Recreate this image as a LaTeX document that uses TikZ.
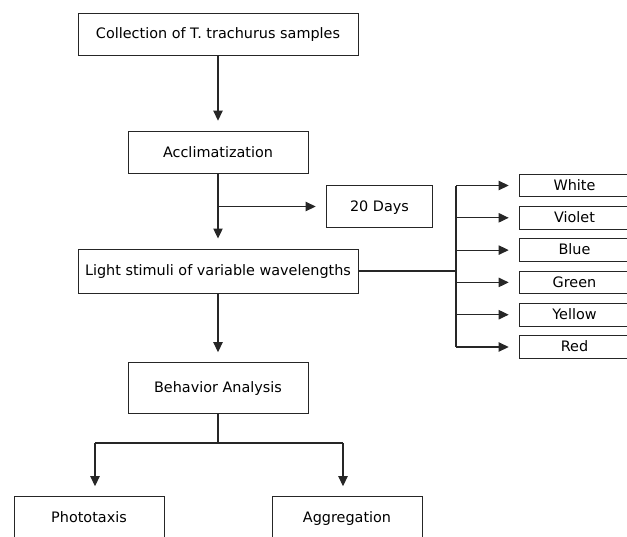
\documentclass[tikz,border=0pt]{standalone}
\usepackage{fontspec}
\setmainfont{DejaVu Sans}
\usetikzlibrary{arrows.meta}
\tikzset{
  stagebox/.style={rectangle, draw=black!85, line width=0.7pt, text centered, inner sep=2pt, text height=0.73em, text depth=0.04em, font=\fontsize{10.8}{12}\selectfont},
  colbox/.style={stagebox, minimum width=83pt, minimum height=17pt},
  link/.style={draw=black!85, line width=0.8pt},
  arr/.style={link, -{Triangle[length=7.5pt,width=7pt]}, shorten >=7.5pt}
}
\begin{document}
\begin{tikzpicture}[x=0.75pt,y=-0.75pt]
\clip (0,0) rectangle (627,536);
\node[stagebox, minimum width=210pt, minimum height=31.5pt] at (218,34) (Col) {Collection of T. trachurus samples};
\node[stagebox, minimum width=135pt, minimum height=32pt] at (218,152.5) (Acc) {Acclimatization};
\node[stagebox, minimum width=80pt, minimum height=32pt] at (379.5,206.5) (Days) {20 Days};
\node[stagebox, minimum width=210pt, minimum height=33pt] at (218,271) (Light) {Light stimuli of variable wavelengths};
\node[stagebox, minimum width=135pt, minimum height=38pt] at (218,388) (Beh) {Behavior Analysis};
\node[stagebox, minimum width=112.5pt, minimum height=32pt] at (89,518) (Pho) {Phototaxis};
\node[stagebox, minimum width=112.5pt, minimum height=32pt] at (347,518) (Agg) {Aggregation};
% wavelength boxes
\foreach \c [count=\i] in {White,Violet,Blue,Green,Yellow,Red}
  \node[colbox] at (574.5,{185.5+32.3*(\i-1)}) (\c) {\c};
\node[shape=coordinate] at (456,271) (P1) {};
\node[shape=coordinate] at (218,443) (P2) {};
\node[shape=coordinate] at (95,443) (L1) {};
\node[shape=coordinate] at (343,443) (L2) {};
\draw[arr] (Col) -- (Acc);
\draw[arr] (Acc) -- (Light);
\draw[arr] (Acc.south |- Days.west) -- (Days.west);
\draw[link] (Light.east) -- (P1);
\draw[link] (P1 |- White.west) -- (P1 |- Red.west);
\foreach \c in {White,Violet,Blue,Green,Yellow,Red}
  \draw[arr] (P1 |- \c.west) -- (\c.west);
\draw[arr] (Light) -- (Beh);
\draw[link] (Beh.south) -- (P2);
\draw[link] (L1) -- (L2);
\draw[arr] (L1) -- (L1 |- Pho.north);
\draw[arr] (L2) -- (L2 |- Agg.north);
\end{tikzpicture}
\end{document}
